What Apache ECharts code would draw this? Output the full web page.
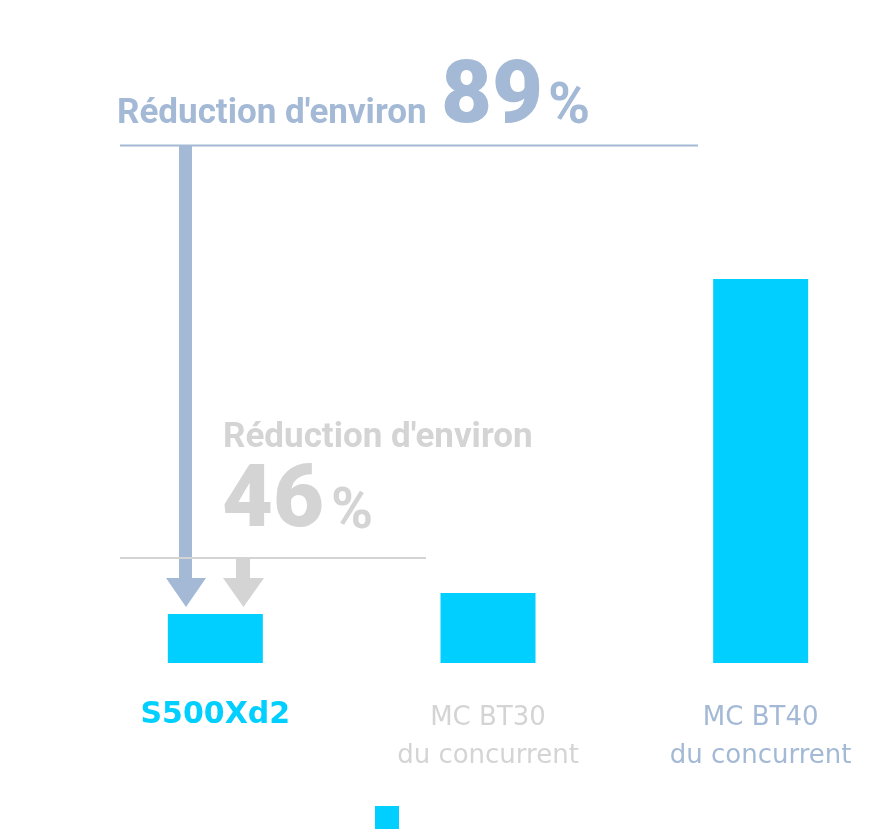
<!DOCTYPE html>
<html>
<head>
<meta charset="utf-8">
<title>Réduction</title>
<script src="https://cdn.jsdelivr.net/npm/echarts@6/dist/echarts.min.js"></script>
<style>
  html, body { margin: 0; padding: 0; background: #fff; }
  #main { width: 888px; height: 835px; }
</style>
</head>
<body>
<div id="main"></div>
<script>
// données
var categories = ['S500Xd2', 'MC BT30\ndu concurrent', 'MC BT40\ndu concurrent'];
var values = [49, 70, 384];
var reductions = ['89', '46'];
var reductionText = "Réduction d'environ";

var CYAN = '#00cfff';
var BLUE_GRAY = '#a3b9d5';
var GRAY = '#d4d4d4';

var myChart = echarts.init(document.getElementById('main'));

var option = {
    animation: false,
    grid: {
        left: 79,
        top: 163,
        width: 818,
        height: 500,
        outerBoundsMode: 'none'
    },
    legend: {
        left: 375,
        top: 806,
        padding: 0,
        itemWidth: 24,
        itemHeight: 23,
        icon: 'rect',
        data: ['S500Xd2'],
        formatter: function () { return ''; }
    },
    xAxis: {
        type: 'category',
        data: categories,
        axisLine: {show: false},
        axisTick: {show: false},
        axisLabel: {
            margin: 36,
            verticalAlign: 'top',
            formatter: function (value, index) {
                if (index === 0) return '{a|' + value + '}';
                var key = index === 1 ? 'g' : 'b';
                return value.split('\n').map(function (l) {
                    return '{' + key + '|' + l + '}';
                }).join('\n');
            },
            rich: {
                a: {color: CYAN, fontFamily: 'DejaVu Sans', fontWeight: 'bold', fontSize: 30, lineHeight: 32},
                g: {color: GRAY, fontFamily: 'DejaVu Sans', fontSize: 26, lineHeight: 38},
                b: {color: BLUE_GRAY, fontFamily: 'DejaVu Sans', fontSize: 26, lineHeight: 38}
            }
        }
    },
    yAxis: {
        type: 'value',
        min: 0,
        max: 500,
        show: false,
        splitLine: {show: false}
    },
    series: [
        {
            name: 'S500Xd2',
            type: 'bar',
            barWidth: 95,
            data: values,
            itemStyle: {color: CYAN}
        }
    ],
    graphic: [
        // ligne et flèche 89%
        {type: 'line', shape: {x1: 120, y1: 145.5, x2: 698, y2: 145.5}, style: {stroke: BLUE_GRAY, lineWidth: 2}},
        {type: 'rect', shape: {x: 179, y: 146, width: 13, height: 433}, style: {fill: BLUE_GRAY}},
        {type: 'polygon', shape: {points: [[166, 578], [206, 578], [186, 607]]}, style: {fill: BLUE_GRAY}},
        // ligne et flèche 46%
        {type: 'line', shape: {x1: 120, y1: 558, x2: 426, y2: 558}, style: {stroke: GRAY, lineWidth: 2}},
        {type: 'rect', shape: {x: 236, y: 559, width: 14, height: 20}, style: {fill: GRAY}},
        {type: 'polygon', shape: {points: [[223, 578], [264, 578], [243.5, 607]]}, style: {fill: GRAY}},
        // textes
        {type: 'text', x: 117, y: 114, style: {text: reductionText, fill: BLUE_GRAY, font: 'bold 35px Roboto', textVerticalAlign: 'middle'}},
        {type: 'text', x: 441, y: 100, style: {text: reductions[0], fill: BLUE_GRAY, font: '900 88px Roboto', textVerticalAlign: 'middle'}},
        {type: 'text', x: 548, y: 109, style: {text: '%', fill: BLUE_GRAY, font: 'bold 57px Roboto', textVerticalAlign: 'middle'}},
        {type: 'text', x: 223, y: 438, style: {text: reductionText, fill: GRAY, font: 'bold 35px Roboto', textVerticalAlign: 'middle'}},
        {type: 'text', x: 222, y: 504, style: {text: reductions[1], fill: GRAY, font: '900 88px Roboto', textVerticalAlign: 'middle'}},
        {type: 'text', x: 331, y: 513.5, style: {text: '%', fill: GRAY, font: 'bold 57px Roboto', textVerticalAlign: 'middle'}}
    ]
};

myChart.setOption(option);
</script>
</body>
</html>
